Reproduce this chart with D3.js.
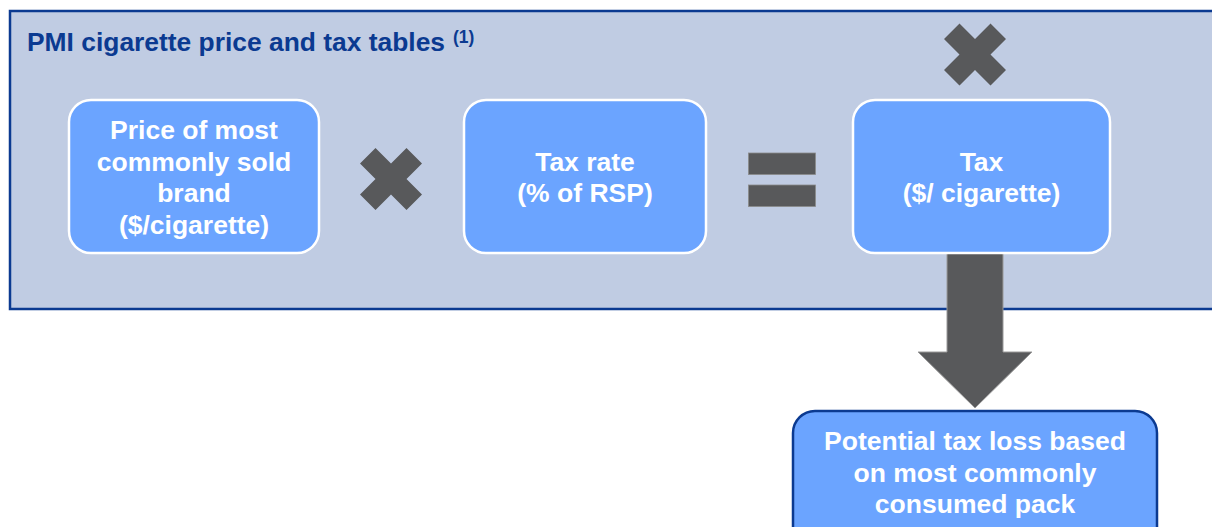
<!DOCTYPE html>
<html>
<head>
<meta charset="utf-8">
<script src="https://cdn.jsdelivr.net/npm/d3@7"></script>
<style>
  html, body { margin: 0; padding: 0; background: #fff; }
  svg { display: block; }
</style>
</head>
<body>
<div class="diagram"></div>
<script>
// Diagram content
var titleText = "PMI cigarette price and tax tables";
var titleNote = "(1)";
var inputLabels = [
  ["Price of most", "commonly sold", "brand", "($/cigarette)"],
  ["Tax rate", "(% of RSP)"],
  ["Tax", "($/ cigarette)"]
];
var resultLabel = ["Potential tax loss based", "on most commonly", "consumed pack"];
var operators = ["times", "equals", "times"];

// Layout params
var svgWidth = 1212;
var svgHeight = 527;

var panel = { x: 10, y: 11, w: 1230, h: 298 };
var boxTop = 100, boxHeight = 153;
var boxLeft = [69, 464, 853];
var boxWidth = [250, 242, 257];
var result = { x: 793, y: 411, w: 364, h: 140 };
var lineGap = 31.7;

// operator centers
var opPos = [[391, 179], [782, 180], [975, 54.5]];

var colors = {
  panel: "#c0cce3",
  navy: "#0b3a91",
  box: "#6ba4ff",
  gray: "#58595b"
};

var font = "'Liberation Sans', Arial, Helvetica, sans-serif";

var svg = d3.select(".diagram")
  .append("svg")
  .attr("width", svgWidth)
  .attr("height", svgHeight);

// Outer panel
svg.append("rect")
  .attr("x", panel.x)
  .attr("y", panel.y)
  .attr("width", panel.w)
  .attr("height", panel.h)
  .attr("fill", colors.panel)
  .attr("stroke", colors.navy)
  .attr("stroke-width", 2.5);

// Title
var title = svg.append("text")
  .attr("x", 27)
  .attr("y", 51)
  .attr("font-family", font)
  .attr("font-weight", "bold")
  .attr("font-size", 26.4)
  .attr("fill", colors.navy)
  .text(titleText);

title.append("tspan")
  .attr("dx", 8)
  .attr("dy", -8)
  .attr("font-size", 17.5)
  .text(titleNote);

// Arrow down from Tax box to result box
var ax = 975;
var arrowPts = [
  [ax - 28, 252], [ax + 28, 252], [ax + 28, 352], [ax + 57, 352],
  [ax, 408], [ax - 57, 352], [ax - 28, 352]
];
svg.append("path")
  .attr("d", d3.line()(arrowPts) + "Z")
  .attr("fill", colors.gray)
  .attr("stroke", "#9a9a9a")
  .attr("stroke-width", 1);

// Input boxes
var boxes = svg.selectAll(".box")
  .data(inputLabels)
  .enter()
  .append("g")
  .attr("class", "box");

boxes.append("rect")
  .attr("x", (d, i) => boxLeft[i])
  .attr("y", boxTop)
  .attr("width", (d, i) => boxWidth[i])
  .attr("height", boxHeight)
  .attr("rx", 22)
  .attr("fill", colors.box)
  .attr("stroke", "#fff")
  .attr("stroke-width", 2.5);

boxes.each(function(lines, i) {
  var cx = boxLeft[i] + boxWidth[i] / 2;
  var cy = boxTop + boxHeight / 2 + 10;
  d3.select(this).selectAll("text")
    .data(lines)
    .enter()
    .append("text")
    .attr("x", cx)
    .attr("y", (d, j) => cy + (j - (lines.length - 1) / 2) * lineGap)
    .attr("text-anchor", "middle")
    .attr("font-family", font)
    .attr("font-weight", "bold")
    .attr("font-size", 26.5)
    .attr("fill", "#fff")
    .text(d => d);
});

// Operators
var a = 15.5, h = 31;
var crossPts = [
  [0, -a], [a, -h], [h, -a], [a, 0], [h, a], [a, h],
  [0, a], [-a, h], [-h, a], [-a, 0], [-h, -a], [-a, -h]
];

operators.forEach(function(op, i) {
  var g = svg.append("g")
    .attr("transform", `translate(${opPos[i][0]}, ${opPos[i][1]})`);
  if (op === "times") {
    g.append("path")
      .attr("d", d3.line()(crossPts) + "Z")
      .attr("fill", colors.gray);
  } else {
    [-27, 5].forEach(function(dy) {
      g.append("rect")
        .attr("x", -33.5)
        .attr("y", dy)
        .attr("width", 67)
        .attr("height", 21.5)
        .attr("fill", colors.gray)
        .attr("stroke", "#8a8a8a")
        .attr("stroke-width", 0.8);
    });
  }
});

// Result box
svg.append("rect")
  .attr("x", result.x)
  .attr("y", result.y)
  .attr("width", result.w)
  .attr("height", result.h)
  .attr("rx", 22)
  .attr("fill", colors.box)
  .attr("stroke", colors.navy)
  .attr("stroke-width", 2.5);

svg.selectAll(".result-text")
  .data(resultLabel)
  .enter()
  .append("text")
  .attr("class", "result-text")
  .attr("x", result.x + result.w / 2)
  .attr("y", (d, j) => result.y + 39 + j * lineGap)
  .attr("text-anchor", "middle")
  .attr("font-family", font)
  .attr("font-weight", "bold")
  .attr("font-size", 26.5)
  .attr("fill", "#fff")
  .text(d => d);
</script>
</body>
</html>
